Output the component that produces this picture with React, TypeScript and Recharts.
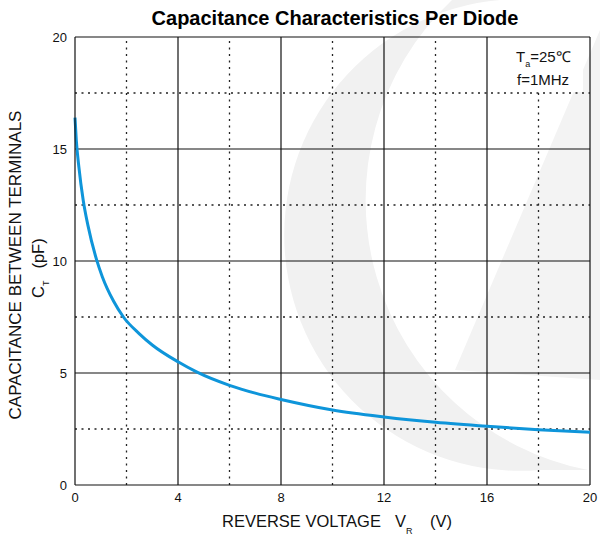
import React from 'react';
import { LineChart, Line, XAxis, YAxis, ReferenceLine } from 'recharts';

// reverse voltage (V) and capacitance (pF)
const voltage = [0, 0.05, 0.15, 0.32, 0.5, 0.84, 1.06, 1.5, 1.88, 2.5, 3, 4, 4.72, 6, 7, 8, 10, 12, 14, 16, 18, 20];
const capacitance = [16.4, 15.4, 14.2, 12.7, 11.6, 10.05, 9.3, 8.2, 7.5, 6.75, 6.25, 5.5, 5.05, 4.45, 4.1, 3.82, 3.35, 3.04, 2.8, 2.62, 2.47, 2.35];

const xTicks = [0, 4, 8, 12, 16, 20];
const yTicks = [0, 5, 10, 15, 20];
const xMinor = [2, 6, 10, 14, 18];
const yMinor = [2.5, 7.5, 12.5, 17.5];

const data = voltage.map((v, i) => ({ v, c: capacitance[i] }));

const font = 'Arial, "Liberation Sans", Helvetica, sans-serif';
const dotted = '2 4.5';

export default function App() {
  return (
    <div style={{ position: 'absolute', left: 0, top: 0, width: 600, height: 542, background: '#fff', fontFamily: font }}>
      {/* faint watermark in the background */}
      <svg width={600} height={542} style={{ position: 'absolute', left: 0, top: 0 }}>
        <path
          d="M 452 0 A 275 275 0 0 0 588 470 L 540 470 A 235 235 0 0 1 500 0 Z"
          fill="#f1f1f1"
        />
        <polygon points="600,30 600,380 455,370" fill="#f3f3f3" />
      </svg>

      <div style={{ position: 'absolute', left: 0, top: 0 }}>
        <LineChart width={600} height={542} data={data} margin={{ top: 37, right: 10, bottom: 0, left: 0 }}>
          <XAxis
            dataKey="v"
            type="number"
            domain={[0, 20]}
            ticks={xTicks}
            height={57}
            tickLine={false}
            axisLine={{ stroke: '#111', strokeWidth: 1.2 }}
            tick={{ fill: '#111', fontSize: 13, fontFamily: font }}
            tickMargin={2}
          />
          <YAxis
            type="number"
            domain={[0, 20]}
            ticks={yTicks}
            width={75}
            tickLine={false}
            axisLine={{ stroke: '#111', strokeWidth: 1.2 }}
            tick={{ fill: '#111', fontSize: 13, fontFamily: font }}
          />
          {xMinor.map((x) => (
            <ReferenceLine key={'xm' + x} x={x} stroke="#222" strokeDasharray={dotted} strokeWidth={1.3} />
          ))}
          {yMinor.map((y) => (
            <ReferenceLine key={'ym' + y} y={y} stroke="#222" strokeDasharray={dotted} strokeWidth={1.3} />
          ))}
          {xTicks.slice(1).map((x) => (
            <ReferenceLine key={'x' + x} x={x} stroke="#111" strokeWidth={1.2} />
          ))}
          {yTicks.slice(1).map((y) => (
            <ReferenceLine key={'y' + y} y={y} stroke="#111" strokeWidth={1.2} />
          ))}
          <Line
            type="monotone"
            dataKey="c"
            stroke="#0e95da"
            strokeWidth={3}
            dot={false}
            isAnimationActive={false}
          />
        </LineChart>
      </div>

      {/* title, axis titles and conditions */}
      <svg width={600} height={542} style={{ position: 'absolute', left: 0, top: 0 }}>
        <text x={335} y={25} textAnchor="middle" fontSize={20} fontWeight="bold" fill="#000" fontFamily={font}>
          Capacitance Characteristics Per Diode
        </text>
        <rect x={510} y={39} width={73} height={53} fill="#fff" />
        <text x={516} y={62} fontSize={15} fill="#111" fontFamily={font}>
          T<tspan fontSize={9} dy={5}>a</tspan>
          <tspan dy={-5}>=25℃</tspan>
        </text>
        <text x={517} y={85} fontSize={15} fill="#111" fontFamily={font}>
          f=1MHz
        </text>
        <text x={222} y={527} fontSize={16.5} fill="#111" fontFamily={font}>
          REVERSE VOLTAGE
        </text>
        <text x={395} y={527} fontSize={16.5} fill="#111" fontFamily={font}>
          V<tspan fontSize={9} dy={7}>R</tspan>
        </text>
        <text x={430} y={527} fontSize={16.5} fill="#111" fontFamily={font}>
          (V)
        </text>
        <text
          x={0}
          y={0}
          transform="translate(21, 265) rotate(-90)"
          textAnchor="middle"
          fontSize={17}
          fill="#111"
          fontFamily={font}
        >
          CAPACITANCE BETWEEN TERMINALS
        </text>
        <text x={0} y={0} transform="translate(44, 298) rotate(-90)" fontSize={16.5} fill="#111" fontFamily={font}>
          C<tspan fontSize={9} dy={5}>T</tspan>
          <tspan dy={-5} dx={12}>(pF)</tspan>
        </text>
      </svg>
    </div>
  );
}
